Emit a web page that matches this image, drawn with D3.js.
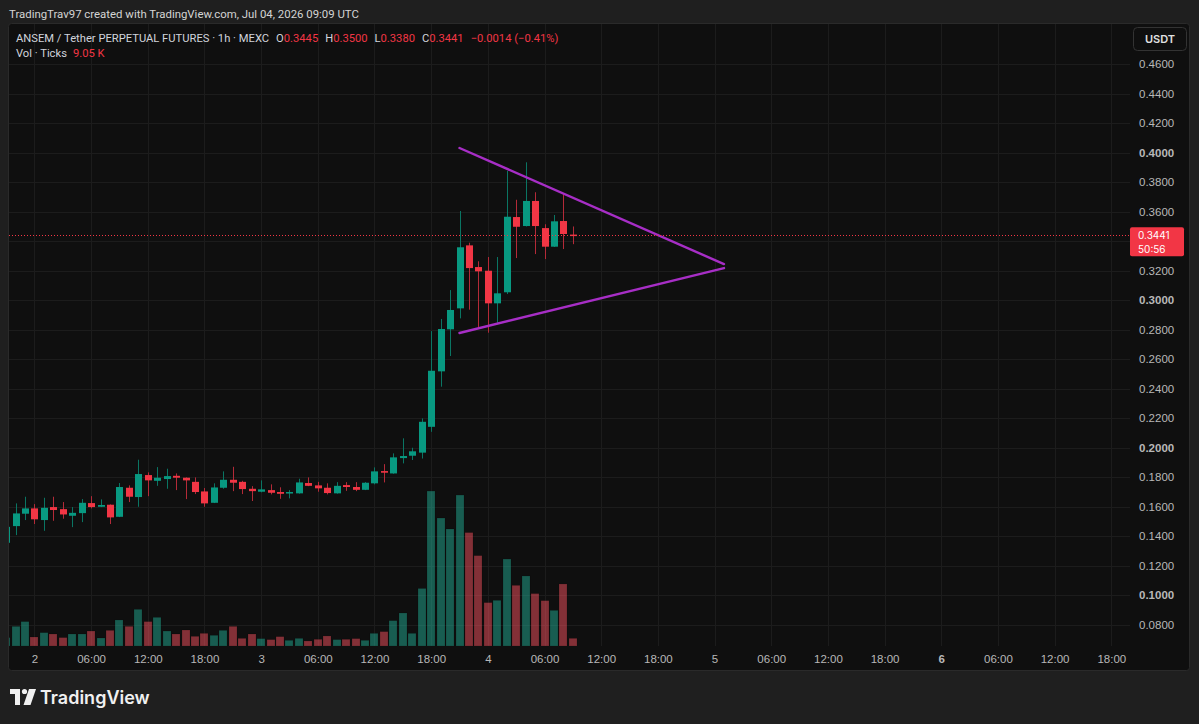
<!DOCTYPE html>
<html>
<head>
<meta charset="utf-8">
<script src="https://cdn.jsdelivr.net/npm/d3@7"></script>
<style>
html, body { margin: 0; padding: 0; background: #1f1f1f; }
svg { display: block; font-family: Inter, "Noto Sans", sans-serif; }
.hdr { font-family: Roboto, Inter, sans-serif; }
</style>
</head>
<body>
<svg id="chart" width="1199" height="724"></svg>
<script>
// hourly bars, first bar Jul 01 21:00 UTC
var firstBar = "2026-07-01T21:00:00Z";

var opens = [0.1356, 0.1469, 0.1553, 0.1589, 0.1510, 0.1598, 0.1584, 0.1539, 0.1557, 0.1625,
    0.1600, 0.1614, 0.1532, 0.1729, 0.1666, 0.1815, 0.1776, 0.1788, 0.1810, 0.1797,
    0.1769, 0.1704, 0.1627, 0.1729, 0.1783, 0.1769, 0.1722, 0.1702, 0.1713, 0.1700,
    0.1695, 0.1691, 0.1761, 0.1745, 0.1729, 0.1691, 0.1747, 0.1734, 0.1715, 0.1759,
    0.1842, 0.1826, 0.1930, 0.1946, 0.1967, 0.2142, 0.2518, 0.2803, 0.2945, 0.3372,
    0.3225, 0.3200, 0.2979, 0.3054, 0.3564, 0.3503, 0.3673, 0.3489, 0.3363, 0.3537,
    0.3445];
var highs = [0.1470, 0.1623, 0.1668, 0.1618, 0.1661, 0.1668, 0.1632, 0.1598, 0.1652, 0.1672,
    0.1650, 0.1616, 0.1761, 0.1745, 0.1919, 0.1833, 0.1869, 0.1858, 0.1826, 0.1799,
    0.1799, 0.1727, 0.1759, 0.1840, 0.1871, 0.1776, 0.1740, 0.1779, 0.1752, 0.1732,
    0.1713, 0.1790, 0.1799, 0.1769, 0.1759, 0.1767, 0.1767, 0.1767, 0.1767, 0.1867,
    0.1889, 0.1962, 0.2064, 0.2000, 0.2199, 0.2791, 0.2873, 0.3069, 0.3605, 0.3390,
    0.3264, 0.3293, 0.3293, 0.3876, 0.3681, 0.3935, 0.3732, 0.3515, 0.3578, 0.3718,
    0.3500];
var lows = [0.1350, 0.1408, 0.1510, 0.1483, 0.1437, 0.1505, 0.1519, 0.1462, 0.1496, 0.1589,
    0.1598, 0.1483, 0.1530, 0.1632, 0.1600, 0.1672, 0.1742, 0.1722, 0.1713, 0.1652,
    0.1686, 0.1600, 0.1625, 0.1722, 0.1706, 0.1686, 0.1639, 0.1698, 0.1684, 0.1654,
    0.1657, 0.1689, 0.1740, 0.1702, 0.1684, 0.1689, 0.1708, 0.1706, 0.1713, 0.1752,
    0.1765, 0.1824, 0.1894, 0.1917, 0.1927, 0.2108, 0.2414, 0.2622, 0.2877, 0.2936,
    0.2814, 0.2780, 0.2847, 0.3042, 0.3286, 0.3500, 0.3313, 0.3279, 0.3361, 0.3347,
    0.3380];
var closes = [0.1464, 0.1555, 0.1589, 0.1515, 0.1593, 0.1578, 0.1548, 0.1559, 0.1627, 0.1598,
    0.1612, 0.1528, 0.1734, 0.1668, 0.1822, 0.1779, 0.1797, 0.1808, 0.1797, 0.1779,
    0.1700, 0.1623, 0.1731, 0.1783, 0.1763, 0.1720, 0.1706, 0.1718, 0.1695, 0.1688,
    0.1700, 0.1765, 0.1742, 0.1725, 0.1693, 0.1742, 0.1734, 0.1715, 0.1763, 0.1840,
    0.1831, 0.1935, 0.1944, 0.1976, 0.2176, 0.2522, 0.2805, 0.2934, 0.3359, 0.3218,
    0.3196, 0.2979, 0.3047, 0.3566, 0.3498, 0.3673, 0.3503, 0.3363, 0.3535, 0.3449,
    0.3441];
// volume in thousands
var volumes = [9.9, 23.1, 28.7, 10.6, 15.7, 14.1, 9.9, 14.1, 14.1, 17.6,
    9.4, 18.4, 30.6, 23.1, 43.1, 28.7, 33.7, 17.6, 14.1, 18.8,
    11.4, 14.9, 12.6, 18.4, 23.1, 9.0, 14.1, 8.7, 7.5, 11.0,
    6.7, 9.0, 5.9, 7.9, 11.8, 7.5, 7.9, 8.7, 6.7, 14.9,
    16.9, 29.8, 38.8, 14.9, 67.6, 182.1, 150.4, 137.5, 177.4, 133.3,
    106.2, 51.0, 53.7, 102.2, 71.3, 82.3, 61.6, 53.3, 41.9, 72.9,
    9.05];

var priceTicks = [0.08, 0.10, 0.12, 0.14, 0.16, 0.18, 0.20, 0.22, 0.24, 0.26,
    0.28, 0.30, 0.32, 0.34, 0.36, 0.38, 0.40, 0.42, 0.44, 0.46];

// triangle drawing
var lineTimes = ["2026-07-03T21:00:00Z", "2026-07-05T01:00:00Z"];
var upperLine = [0.4032, 0.3245];
var lowerLine = [0.2778, 0.3218];

var lastPrice = 0.3441;

var upColor = "#089981", downColor = "#f23645";

var W = 1199, H = 724;
var plot = {left: 9, right: 1130, top: 24, bottom: 646};

var t0 = new Date(firstBar);
var times = d3.utcHour.range(t0, d3.utcHour.offset(t0, opens.length));
var bars = times.map(function (t, i) {
    return {t: t, o: opens[i], h: highs[i], l: lows[i], c: closes[i], v: volumes[i]};
});

var xScale = d3.scaleUtc()
    .domain([t0, d3.utcHour.offset(t0, 120)])
    .range([6.1, 6.1 + 120 * 9.446]);

var yScale = d3.scaleLinear()
    .domain([0.46, 0.08])
    .range([64.2, 624.8]);

var vScale = d3.scaleLinear()
    .domain([0, 200])
    .range([plot.bottom, plot.bottom - 170.2]);

var ly = yScale(lastPrice);

var svg = d3.select("#chart");

svg.append("rect").attr("width", W).attr("height", H).attr("fill", "#1f1f1f");
svg.append("rect")
    .attr("x", 8.5).attr("y", 23.5)
    .attr("width", 1181).attr("height", 647)
    .attr("rx", 3)
    .attr("fill", "#0f0f0f")
    .attr("stroke", "#2a2a2a");

svg.append("defs").append("clipPath").attr("id", "plotclip")
    .append("rect")
    .attr("x", plot.left).attr("y", plot.top)
    .attr("width", plot.right - plot.left).attr("height", plot.bottom - plot.top);

// grid
var timeTicks = d3.utcHour.every(6).range(d3.utcHour.offset(t0, 1), d3.utcHour.offset(t0, 120));

var grid = svg.append("g").attr("clip-path", "url(#plotclip)");
grid.selectAll(".hgrid")
    .data(priceTicks)
    .enter().append("line")
    .attr("x1", plot.left).attr("x2", plot.right)
    .attr("y1", function (d) { return Math.round(yScale(d)) + 0.5; })
    .attr("y2", function (d) { return Math.round(yScale(d)) + 0.5; })
    .attr("stroke", "#1c1c1c");
grid.selectAll(".vgrid")
    .data(timeTicks)
    .enter().append("line")
    .attr("y1", plot.top).attr("y2", plot.bottom)
    .attr("x1", function (d) { return Math.round(xScale(d)) + 0.5; })
    .attr("x2", function (d) { return Math.round(xScale(d)) + 0.5; })
    .attr("stroke", "#1c1c1c");

var g = svg.append("g").attr("clip-path", "url(#plotclip)");

// volume
g.selectAll(".vol")
    .data(bars)
    .enter().append("rect")
    .attr("x", function (d) { return Math.round(xScale(d.t) - 4); })
    .attr("width", 8)
    .attr("y", function (d) { return vScale(d.v); })
    .attr("height", function (d) { return plot.bottom - vScale(d.v); })
    .attr("fill", function (d) { return d.c >= d.o ? "rgba(34,171,148,0.5)" : "rgba(247,82,95,0.5)"; })
    .attr("stroke", "rgba(0,0,0,0.25)")
    .attr("stroke-width", 0.6);

// candles
g.selectAll(".wick")
    .data(bars)
    .enter().append("line")
    .attr("x1", function (d) { return Math.round(xScale(d.t)) + 0.5; })
    .attr("x2", function (d) { return Math.round(xScale(d.t)) + 0.5; })
    .attr("y1", function (d) { return yScale(d.h); })
    .attr("y2", function (d) { return yScale(d.l); })
    .attr("stroke", function (d) { return d.c >= d.o ? "#0a7563" : "#b42a38"; });

g.selectAll(".body")
    .data(bars)
    .enter().append("rect")
    .attr("x", function (d) { return Math.round(xScale(d.t)) - 3; })
    .attr("width", 7)
    .attr("y", function (d) { return yScale(Math.max(d.o, d.c)); })
    .attr("height", function (d) { return Math.max(1.5, Math.abs(yScale(d.o) - yScale(d.c))); })
    .attr("fill", function (d) { return d.c >= d.o ? upColor : downColor; });

// current price line
svg.append("line")
    .attr("x1", plot.left).attr("x2", plot.right)
    .attr("y1", Math.round(ly) + 0.5)
    .attr("y2", Math.round(ly) + 0.5)
    .attr("stroke", downColor)
    .attr("stroke-dasharray", "1,2");

// triangle
var trend = d3.line()
    .x(function (d) { return xScale(new Date(d[0])); })
    .y(function (d) { return yScale(d[1]); });
[upperLine, lowerLine].forEach(function (ln) {
    g.append("path")
        .attr("d", trend(lineTimes.map(function (t, i) { return [t, ln[i]]; })))
        .attr("fill", "none")
        .attr("stroke", "#a72ec6")
        .attr("stroke-width", 2.4)
        .attr("stroke-linecap", "round");
});

// price axis (labels under the last-price tag are hidden)
var yAxis = d3.axisRight(yScale)
    .tickValues(priceTicks.filter(function (d) { return Math.abs(yScale(d) - ly) > 16; }))
    .tickSize(0)
    .tickPadding(9)
    .tickFormat(d3.format(".4f"));

var yAxisG = svg.append("g")
    .attr("transform", "translate(" + plot.right + ",0)")
    .call(yAxis);
yAxisG.select(".domain").remove();
yAxisG.selectAll("text")
    .attr("fill", "#b8b8b8")
    .style("font-size", "11.5px")
    .style("font-weight", function (d) { return Math.abs(d * 10 - Math.round(d * 10)) < 1e-9 ? 700 : 400; });

// time axis
var xAxis = d3.axisBottom(xScale)
    .tickValues(timeTicks)
    .tickSize(0)
    .tickPadding(9)
    .tickFormat(function (d) {
        return d.getUTCHours() === 0 ? d3.utcFormat("%-d")(d) : d3.utcFormat("%H:%M")(d);
    });

var xAxisG = svg.append("g")
    .attr("transform", "translate(0," + plot.bottom + ")")
    .call(xAxis);
xAxisG.select(".domain").remove();
xAxisG.selectAll("text")
    .attr("fill", "#b8b8b8")
    .style("font-size", "11.5px")
    .style("font-weight", function (d) { return d3.utcFormat("%-d %H")(d) === "6 00" ? 700 : 400; });

// last price label
svg.append("rect")
    .attr("x", 1130).attr("y", ly - 8).attr("width", 54).attr("height", 29)
    .attr("rx", 2)
    .attr("fill", downColor);
svg.append("text")
    .attr("x", 1138).attr("y", ly + 3.5)
    .attr("fill", "#fff").style("font-size", "10px")
    .text(d3.format(".4f")(lastPrice));
svg.append("text")
    .attr("x", 1138).attr("y", ly + 17.5)
    .attr("fill", "#fff").style("font-size", "10px")
    .text("50:56");

// currency button
svg.append("rect")
    .attr("x", 1133.5).attr("y", 27.5).attr("width", 53).attr("height", 23)
    .attr("rx", 4)
    .attr("fill", "#0f0f0f").attr("stroke", "#333");
svg.append("text")
    .attr("x", 1160).attr("y", 43)
    .attr("text-anchor", "middle")
    .attr("fill", "#e0e0e0").style("font-size", "11px").style("font-weight", 600)
    .text("USDT");

// header
svg.append("text")
    .attr("class", "hdr")
    .attr("x", 9).attr("y", 18)
    .attr("fill", "#d4d4d4").style("font-size", "11.4px")
    .text("TradingTrav97 created with TradingView.com, Jul 04, 2026 09:09 UTC");

var legend = svg.append("text")
    .attr("class", "hdr")
    .attr("x", 16).attr("y", 42)
    .attr("fill", "#d1d4dc").style("font-size", "11.2px");
legend.append("tspan").text("ANSEM / Tether PERPETUAL FUTURES · 1h · MEXC");
[["O", opens[60]], ["H", highs[60]], ["L", lows[60]], ["C", closes[60]]].forEach(function (p) {
    legend.append("tspan").attr("dx", 7).text(p[0]);
    legend.append("tspan").attr("fill", downColor).text(d3.format(".4f")(p[1]));
});
legend.append("tspan").attr("dx", 7).attr("fill", downColor).text("−0.0014 (−0.41%)");

var vol = svg.append("text")
    .attr("class", "hdr")
    .attr("x", 16).attr("y", 57)
    .attr("fill", "#d1d4dc").style("font-size", "11.2px");
vol.append("tspan").text("Vol · Ticks");
vol.append("tspan").attr("dx", 6).attr("fill", downColor).text("9.05 K");

// footer logo
var logo = svg.append("g").attr("fill", "#f0f0f0");
logo.append("path").attr("d", "M10,689 H20 V705 H15 V694 H10 Z");
logo.append("circle").attr("cx", 24.5).attr("cy", 691.5).attr("r", 2.6);
logo.append("path").attr("d", "M29,689 H36 L30.5,705 H23.5 Z");
svg.append("text")
    .attr("x", 40).attr("y", 704)
    .attr("fill", "#f0f0f0")
    .style("font-size", "18px").style("font-weight", 600)
    .text("TradingView");
</script>
</body>
</html>
